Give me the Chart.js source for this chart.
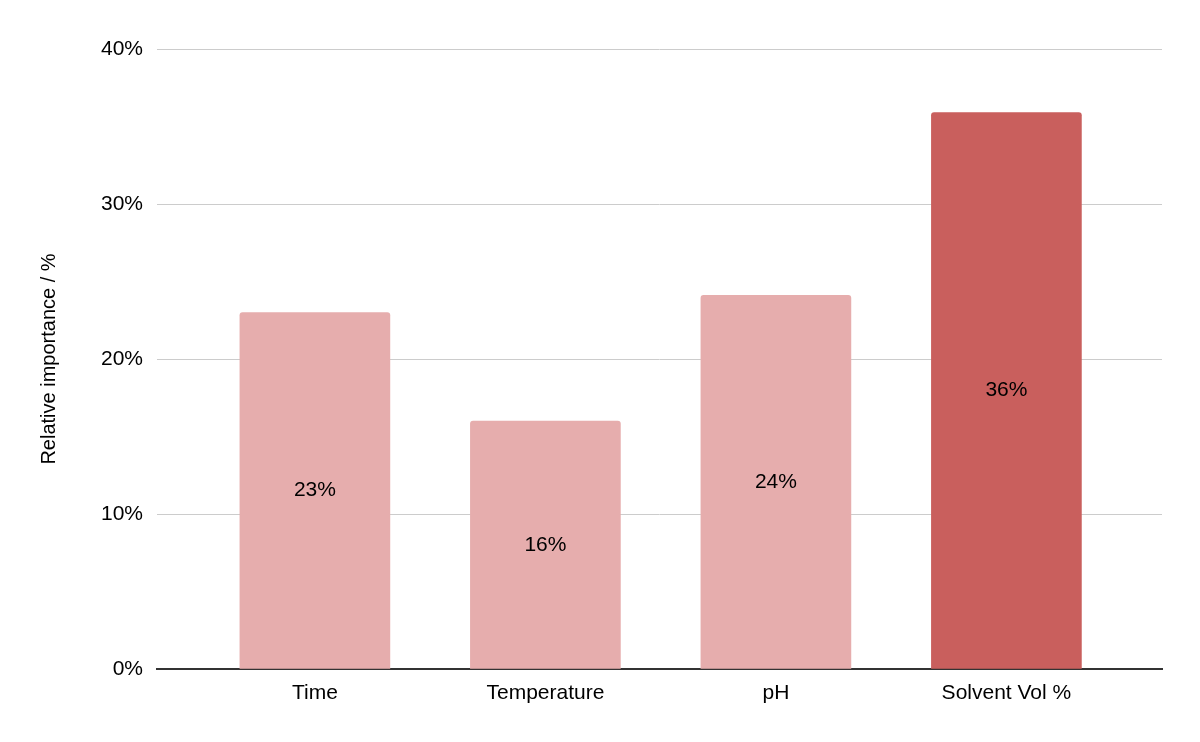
<!DOCTYPE html>
<html>
<head>
<meta charset="utf-8">
<script src="https://cdn.jsdelivr.net/npm/chart.js@4"></script>
<style>
  html, body { margin: 0; padding: 0; background: #fff; }
  #wrap { width: 1200px; height: 742px; }
</style>
</head>
<body>
<div id="wrap"><canvas id="barChart" width="1200" height="742"></canvas></div>
<script>
var categories = ['Time', 'Temperature', 'pH', 'Solvent Vol %'];
var importance = [23.0, 16.0, 24.1, 35.9];
var barColors = ['#e6adad', '#e6adad', '#e6adad', '#c95f5d'];
var yTicks = [0, 10, 20, 30, 40];

// writes the rounded value in the middle of each bar
var centerLabels = {
    id: 'centerLabels',
    afterDatasetsDraw: function(chart) {
        var ctx = chart.ctx;
        var meta = chart.getDatasetMeta(0);
        ctx.save();
        ctx.font = '21px "Liberation Sans", Arial, sans-serif';
        ctx.fillStyle = '#000';
        ctx.textAlign = 'center';
        ctx.textBaseline = 'middle';
        meta.data.forEach(function(bar, i) {
            var mid = (bar.y + bar.base) / 2;
            ctx.fillText(Math.round(importance[i]) + '%', bar.x, mid);
        });
        ctx.restore();
    }
};

document.addEventListener('DOMContentLoaded', function() {
    var ctx = document.getElementById('barChart').getContext('2d');
    Chart.defaults.font.family = '"Liberation Sans", Arial, sans-serif';
    Chart.defaults.color = '#000';

    var points = categories.map(function(c, i) { return { x: i, y: importance[i] }; });

    new Chart(ctx, {
        type: 'bar',
        data: {
            datasets: [{
                data: points,
                backgroundColor: barColors,
                borderRadius: { topLeft: 3, topRight: 3 },
                borderSkipped: 'bottom',
                barThickness: 150
            }]
        },
        options: {
            responsive: false,
            animation: false,
            layout: { padding: { top: 49, right: 38, left: 37, bottom: 0 } },
            plugins: {
                legend: { display: false },
                tooltip: { enabled: false }
            },
            scales: {
                x: {
                    type: 'linear',
                    offset: false,
                    min: -0.685,
                    max: categories.length - 1 + 0.675,
                    afterBuildTicks: function(axis) {
                        axis.ticks = categories.map(function(c, i) { return { value: i }; });
                    },
                    grid: { display: false, drawTicks: false },
                    border: { color: '#333', width: 2 },
                    ticks: {
                        font: { size: 21 },
                        padding: 12,
                        color: '#000',
                        autoSkip: false,
                        maxRotation: 0,
                        callback: function(v) { return categories[v]; }
                    },
                    afterFit: function(axis) { axis.height = 73; }
                },
                y: {
                    min: 0,
                    max: 40,
                    afterBuildTicks: function(axis) {
                        axis.ticks = yTicks.map(function(v) { return { value: v }; });
                    },
                    ticks: {
                        font: { size: 21 },
                        padding: 14,
                        color: '#000',
                        callback: function(v) { return v + '%'; }
                    },
                    grid: { color: '#cccccc', lineWidth: 1, drawTicks: false },
                    border: { display: false },
                    title: {
                        display: true,
                        text: 'Relative importance / %',
                        font: { size: 20 },
                        color: '#000',
                        padding: { top: 0, bottom: 0 }
                    },
                    afterFit: function(axis) { axis.width = 120; }
                }
            }
        },
        plugins: [centerLabels]
    });
});
</script>
</body>
</html>
